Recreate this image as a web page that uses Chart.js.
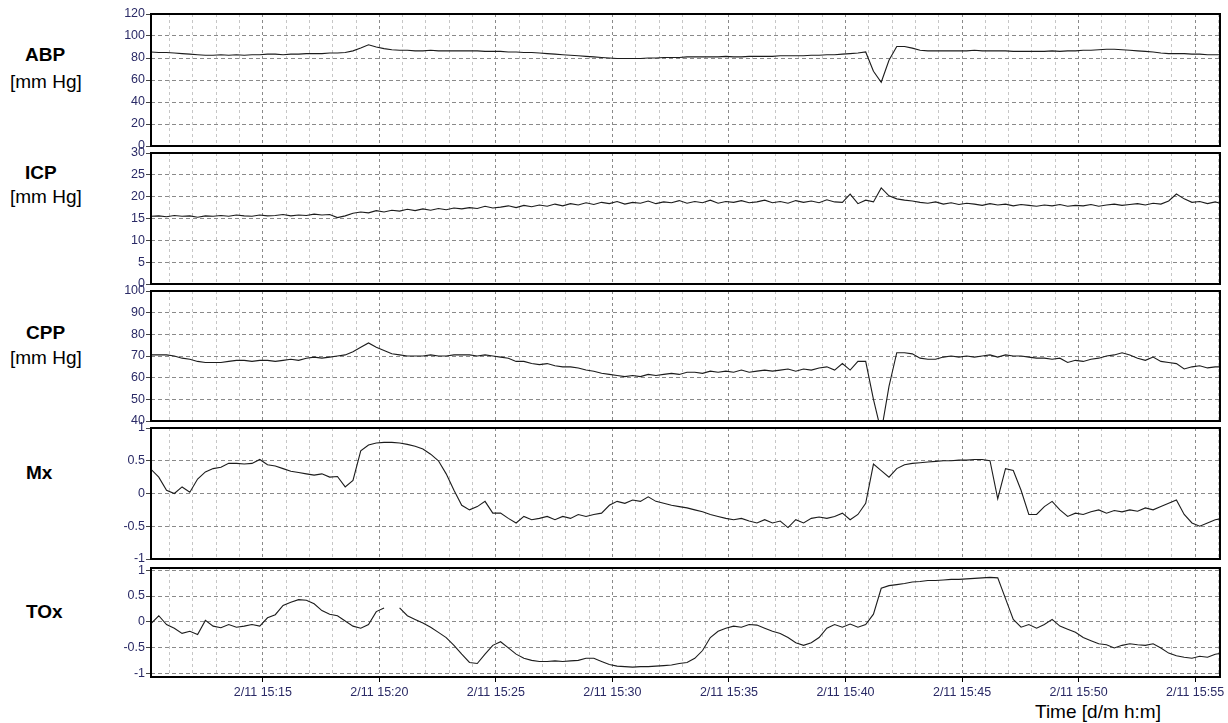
<!DOCTYPE html>
<html>
<head>
<meta charset="utf-8">
<script src="https://cdn.jsdelivr.net/npm/chart.js@4.4.1/dist/chart.umd.min.js"></script>
<style>
  html, body { margin: 0; padding: 0; background: #fff; }
  body { width: 1228px; height: 723px; overflow: hidden; position: relative;
         font-family: "Liberation Sans", Arial, sans-serif; color: #000; }
  canvas { position: absolute; left: 0; }
  .name { position: absolute; font-weight: bold; font-size: 19px; line-height: 20px; }
  .unit { position: absolute; font-size: 19px; line-height: 20px; }
</style>
</head>
<body>
<div class="name" style="left:25px;top:45px">ABP</div>
<div class="unit" style="left:10px;top:72px">[mm Hg]</div>
<div class="name" style="left:25px;top:163px">ICP</div>
<div class="unit" style="left:10px;top:187px">[mm Hg]</div>
<div class="name" style="left:26px;top:323px">CPP</div>
<div class="unit" style="left:10px;top:348px">[mm Hg]</div>
<div class="name" style="left:26px;top:463px">Mx</div>
<div class="name" style="left:26px;top:602px">TOx</div>
<div class="unit" style="left:1035px;top:702px">Time [d/m h:m]</div>

<script>
// Sampling: minutes after 15:00 on 2/11, one sample every 20 s
const startMinute = 10.2;
const sampleStep = 1 / 3;
const xMin = 10.2;
const xMax = 56.07;

// Time axis: a grid line every minute, labels every five minutes
const minuteTicks = [];
for (let m = 11; m <= 56; m++) minuteTicks.push(m);
const timeTickMinutes = [15, 20, 25, 30, 35, 40, 45, 50, 55];
const timeTickLabels = ['2/11 15:15', '2/11 15:20', '2/11 15:25', '2/11 15:30', '2/11 15:35',
                        '2/11 15:40', '2/11 15:45', '2/11 15:50', '2/11 15:55'];

// Arterial blood pressure [mm Hg]
const abp = [
  85.5, 85, 85, 84.5, 84, 83.5, 83, 82.5, 82.5, 83,
  82.5, 83, 82.5, 83, 83, 83.5, 83.5, 83, 83.5, 83.5,
  84, 84, 84, 84.5, 84.5, 85, 86.5, 89, 92, 90,
  88.5, 87.5, 87, 87, 86.5, 86.5, 87, 86.5, 86.5, 86.5,
  86.5, 86.5, 86.5, 86, 86, 86, 85.5, 85.5, 85, 85,
  84.5, 84, 83.5, 83, 82.5, 82, 81.5, 81, 80.5, 80,
  79.5, 79.5, 79.5, 79.5, 80, 80, 80.5, 80.5, 80.5, 81,
  81, 81, 81, 81, 81.5, 81, 81, 81.5, 81.5, 81.5,
  81.5, 82, 82, 82, 82, 82.5, 82.5, 83, 83, 83.5,
  84, 84.5, 85.5, 68, 58, 78, 90.5, 90.5, 89, 87,
  86.5, 86.5, 86.5, 86.5, 86.5, 86.5, 87, 86.5, 86.5, 86.5,
  86.5, 86, 86, 86, 86, 86, 86.5, 86, 86.5, 86.5,
  87, 87, 87.5, 88, 88, 87.5, 87, 86.5, 86, 85.5,
  84.5, 84, 84, 84, 83.5, 83.5, 83, 83, 83
];

// Intracranial pressure [mm Hg]
const icp = [
  15.5, 15.6, 15.4, 15.7, 15.5, 15.6, 15.3, 15.6, 15.5, 15.7,
  15.5, 15.8, 15.6, 15.5, 15.8, 15.6, 15.7, 15.9, 15.6, 15.8,
  15.7, 16.0, 15.8, 15.9, 15.2, 15.6, 16.2, 16.5, 16.3, 16.8,
  16.5, 16.9, 16.7, 17.1, 16.8, 17.2, 16.9, 17.3, 17.0, 17.4,
  17.2, 17.5, 17.3, 17.8, 17.4, 17.6, 17.9, 17.5, 18.0, 17.7,
  18.1, 17.8, 18.3, 17.9, 18.4, 18.1, 18.6, 18.2, 18.7, 18.4,
  18.9, 18.3, 18.7, 18.5, 19.0, 18.4, 18.8, 18.6, 19.1, 18.5,
  18.9, 18.6, 19.2, 18.5, 18.9, 18.7, 19.1, 18.6, 18.8, 19.2,
  18.6, 18.9, 18.5, 19.1, 18.7, 19.0, 18.6, 19.3, 18.8, 18.7,
  20.6, 18.4, 19.2, 18.8, 22.0, 20.2, 19.5, 19.2, 19.0, 18.7,
  18.5, 18.8, 18.3, 18.6, 18.2, 18.5, 18.3, 18.0, 18.4, 18.1,
  18.3, 17.9, 18.2, 18.0, 17.8, 18.1, 17.9, 18.2, 17.8, 18.0,
  17.9, 18.2, 17.8, 18.1, 18.3, 18.0, 18.2, 18.4, 18.1, 18.5,
  18.3, 19.0, 20.6, 19.5, 18.7, 18.9, 18.4, 18.8, 18.3
];

// Cerebral perfusion pressure [mm Hg]
const cpp = [
  70.5, 70.5, 70.5, 70, 69, 68.5, 67.5, 67, 67, 67,
  67.5, 68, 68, 67.5, 68, 68, 67.5, 68, 68.5, 68,
  69, 69.5, 69, 69.5, 70, 70.5, 72, 74, 76, 74,
  72.5, 71, 70.5, 70, 70, 70, 70.5, 70, 70, 70.5,
  70.5, 70.5, 70, 70.5, 70, 69.5, 69, 67.5, 67.5, 66.5,
  66, 66.5, 65.5, 65, 65, 64.5, 63.5, 63, 62, 61.5,
  61, 60.5, 61, 60.5, 61.5, 61, 61.5, 62, 61.5, 62.5,
  62.5, 62, 63, 62.5, 63, 62.5, 63.5, 62.5, 63, 63.5,
  63, 63.5, 64, 63, 64, 63.5, 64.5, 65, 63.5, 66.5,
  63.5, 67.5, 67.5, 50, 35, 56, 71.5, 71.5, 71, 69,
  68.5, 68.5, 69.5, 70, 69.5, 70, 69.5, 70, 70.5, 69.5,
  70.5, 70, 70, 69.5, 69, 69, 68.5, 69, 67, 68,
  67.5, 68.5, 69, 70, 70.5, 71.5, 70.5, 69, 68, 69.5,
  67.5, 67, 66.5, 64, 65, 65.5, 64.5, 65, 65
];

// Mean flow index Mx
const mx = [
  0.37, 0.25, 0.05, 0.0, 0.1, 0.02, 0.22, 0.33, 0.38, 0.4,
  0.46, 0.46, 0.45, 0.46, 0.52, 0.44, 0.42, 0.38, 0.34, 0.32,
  0.3, 0.28, 0.3, 0.25, 0.26, 0.1, 0.2, 0.65, 0.74, 0.77,
  0.78, 0.78, 0.77, 0.75, 0.72, 0.68, 0.6, 0.5, 0.3, 0.05,
  -0.18, -0.25, -0.2, -0.12, -0.3, -0.3, -0.38, -0.45, -0.35, -0.4,
  -0.38, -0.35, -0.4, -0.35, -0.38, -0.32, -0.35, -0.32, -0.3, -0.18,
  -0.12, -0.15, -0.1, -0.12, -0.05, -0.12, -0.15, -0.18, -0.2, -0.22,
  -0.25, -0.28, -0.32, -0.35, -0.38, -0.4, -0.38, -0.42, -0.45, -0.4,
  -0.45, -0.42, -0.52, -0.4, -0.45, -0.38, -0.36, -0.38, -0.35, -0.3,
  -0.4, -0.32, -0.15, 0.45, 0.35, 0.25, 0.38, 0.44, 0.46, 0.47,
  0.48, 0.49, 0.5, 0.5, 0.51, 0.51, 0.52, 0.52, 0.5, -0.08,
  0.38, 0.35, 0.05, -0.32, -0.32, -0.2, -0.12, -0.25, -0.35, -0.3,
  -0.32, -0.28, -0.25, -0.3, -0.26, -0.28, -0.25, -0.27, -0.22, -0.25,
  -0.2, -0.15, -0.1, -0.32, -0.45, -0.5, -0.45, -0.4, -0.38
];

// Tissue oxygenation index TOx (null = no signal)
const tox = [
  -0.03, 0.12, -0.05, -0.12, -0.22, -0.18, -0.24, 0.03, -0.08, -0.11,
  -0.05, -0.1, -0.08, -0.05, -0.08, 0.08, 0.14, 0.32, 0.38, 0.43,
  0.42, 0.35, 0.22, 0.15, 0.12, 0.02, -0.08, -0.12, -0.05, 0.2,
  0.27, null, 0.27, 0.12, 0.05, -0.02, -0.1, -0.2, -0.3, -0.45,
  -0.62, -0.78, -0.8, -0.62, -0.45, -0.38, -0.5, -0.62, -0.7, -0.74,
  -0.76, -0.76, -0.75, -0.76, -0.75, -0.74, -0.7, -0.7, -0.76, -0.82,
  -0.85, -0.86, -0.87, -0.86, -0.86, -0.85, -0.84, -0.83, -0.8, -0.78,
  -0.7, -0.55, -0.3, -0.18, -0.12, -0.08, -0.1, -0.05, -0.06, -0.12,
  -0.18, -0.22, -0.3, -0.4, -0.45, -0.4, -0.3, -0.12, -0.05, -0.1,
  -0.04, -0.1, -0.05, 0.15, 0.65, 0.7, 0.72, 0.74, 0.77, 0.78,
  0.8, 0.8, 0.81, 0.82, 0.82, 0.83, 0.84, 0.85, 0.86, 0.85,
  0.45, 0.05, -0.1, -0.05, -0.12, -0.05, 0.05, -0.08, -0.14, -0.2,
  -0.3, -0.36, -0.42, -0.44, -0.5, -0.45, -0.42, -0.44, -0.45, -0.42,
  -0.5, -0.6, -0.65, -0.68, -0.7, -0.66, -0.68, -0.62, -0.6
];

// Value-axis ticks per panel
const abpTicks = [0, 20, 40, 60, 80, 100, 120];
const icpTicks = [0, 5, 10, 15, 20, 25, 30];
const cppTicks = [40, 50, 60, 70, 80, 90, 100];
const indexTicks = [-1, -0.5, 0, 0.5, 1];

// Panel frames: heavy black rectangle around every plot area
const framePlugin = {
  id: 'panelFrame',
  afterDraw(chart) {
    const { ctx, chartArea: a } = chart;
    ctx.save();
    ctx.strokeStyle = '#000';
    ctx.lineWidth = 2;
    ctx.setLineDash([]);
    ctx.strokeRect(a.left, a.top, a.right - a.left, a.bottom - a.top);
    ctx.restore();
  }
};

const tickFont = { family: '"Liberation Sans", Arial, sans-serif', size: 12.5 };
const tickColor = '#2a2a66';

function timeLabel(v) {
  const k = timeTickMinutes.indexOf(v);
  return k >= 0 ? timeTickLabels[k] : '';
}

function makePanel(values, yMin, yMax, yTicks, top, height, isBottom) {
  const canvas = document.createElement('canvas');
  canvas.width = 1228;
  canvas.height = height;
  canvas.style.top = top + 'px';
  canvas.style.width = '1228px';
  canvas.style.height = height + 'px';
  document.body.appendChild(canvas);

  const points = values.map((v, i) => ({ x: startMinute + i * sampleStep, y: v }));

  return new Chart(canvas, {
    type: 'line',
    data: {
      datasets: [{
        data: points,
        borderColor: '#1c1c1c',
        borderWidth: 1.1,
        pointRadius: 0,
        tension: 0,
        spanGaps: false
      }]
    },
    options: {
      responsive: false,
      animation: false,
      devicePixelRatio: 1,
      layout: { padding: { left: 103, right: 8, top: 10, bottom: isBottom ? 0 : 10 } },
      plugins: { legend: { display: false }, tooltip: { enabled: false } },
      scales: {
        x: {
          type: 'linear',
          min: xMin,
          max: xMax,
          afterBuildTicks: s => { s.ticks = minuteTicks.map(v => ({ value: v })); },
          afterFit: s => { s.height = isBottom ? 30 : 0; },
          border: { display: false, dash: [3, 3] },
          grid: {
            color: c => (c.tick && c.tick.value % 5 === 0) ? '#8a8a8a' : '#c6c6c6',
            lineWidth: 1,
            drawTicks: isBottom,
            tickLength: 5,
            tickColor: c => (c.tick && c.tick.value % 5 === 0) ? '#000' : 'rgba(0,0,0,0)'
          },
          ticks: {
            display: isBottom,
            autoSkip: false,
            maxRotation: 0,
            minRotation: 0,
            padding: 3,
            color: tickColor,
            font: tickFont,
            callback: v => timeLabel(v)
          }
        },
        y: {
          min: yMin,
          max: yMax,
          afterBuildTicks: s => { s.ticks = yTicks.map(v => ({ value: v })); },
          afterFit: s => { s.width = 48; },
          border: { display: false, dash: [4, 3] },
          grid: {
            color: '#8a8a8a',
            lineWidth: 1,
            drawTicks: true,
            tickLength: 5,
            tickColor: '#444'
          },
          ticks: {
            padding: 1,
            color: tickColor,
            font: tickFont,
            callback: v => String(v)
          }
        }
      }
    },
    plugins: [framePlugin]
  });
}

makePanel(abp, 0, 120, abpTicks, 4, 152, false);
makePanel(icp, 0, 30, icpTicks, 143, 151, false);
makePanel(cpp, 40, 100, cppTicks, 281, 150, false);
makePanel(mx, -1, 1, indexTicks, 418, 151, false);
makePanel(tox, -1.06, 1.04, indexTicks, 558, 149, true);
</script>
</body>
</html>
